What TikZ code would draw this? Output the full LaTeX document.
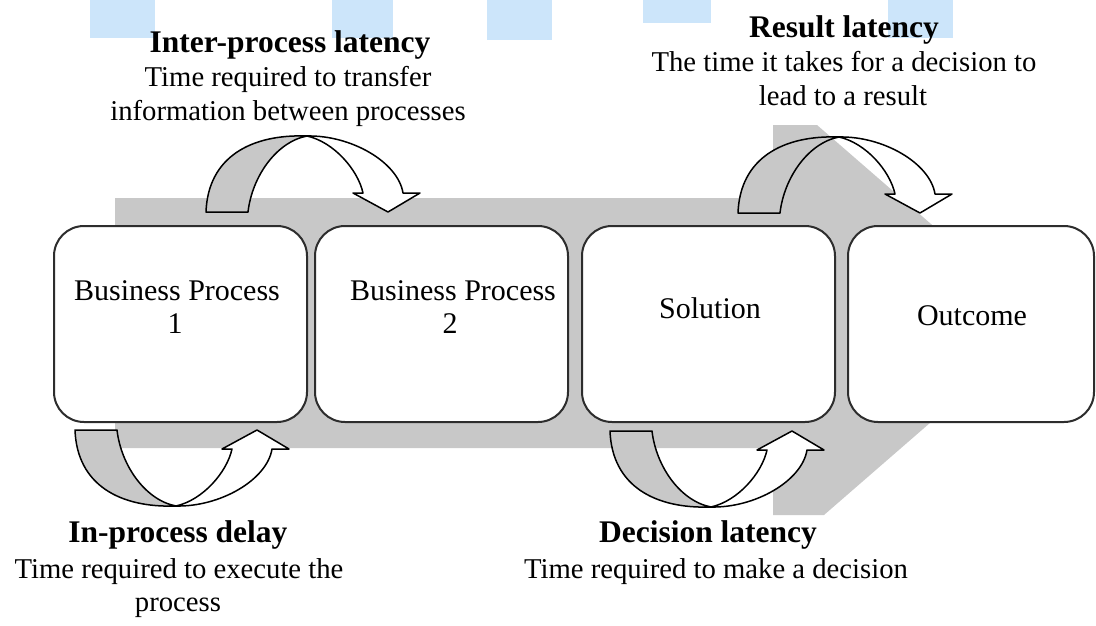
\documentclass[tikz,border=0pt]{standalone}
\usepackage{fontspec}
\setmainfont{Liberation Serif}
\definecolor{band}{RGB}{200,200,200}
\definecolor{cyanbar}{RGB}{204,229,250}
\definecolor{boxline}{RGB}{45,45,45}
\newcommand\ribbonarrow[4]{%
  \begin{scope}[shift={(#1,#2)}, yscale=#3]
    \filldraw[arr, fill=band] (0,0) coordinate (#4-foot)
      .. controls (2,-55) and (45,-78) .. (101,-76) coordinate (#4-top)
      .. controls (70,-70) and (46,-35) .. (42,0) -- cycle;
    \filldraw[arr, fill=white] (101,-76)
      .. controls (145,-77) and (192,-50) .. (197,-19)
      -- (214,-19) -- (182,0) coordinate (#4-tip) -- (147,-19) -- (157,-19)
      .. controls (152,-42) and (128,-70) .. (101,-76) -- cycle;
  \end{scope}}
\begin{document}
\begin{tikzpicture}[x=1pt,y=-1pt,
  box/.style={draw=boxline, line width=2pt, fill=white, rounded corners=30pt,
    minimum width=253pt, minimum height=196pt, inner sep=0},
  arr/.style={draw=black, line width=1.5pt, line join=round},
  boldt/.style={font=\fontsize{31.5}{36}\selectfont\bfseries, anchor=base, inner sep=0},
  regt/.style={font=\fontsize{28.7}{33}\selectfont, anchor=base, inner sep=0},
  boxt/.style={font=\fontsize{30}{34}\selectfont, anchor=base, inner sep=0}]
\useasboundingbox (0,0) rectangle (1096,626);
\fill[white] (0,0) rectangle (1096,626);
% light blue bars at the top
\fill[cyanbar] (90,0) rectangle (155,38);
\fill[cyanbar] (332,0) rectangle (393,38);
\fill[cyanbar] (487,0) rectangle (552,40);
\fill[cyanbar] (643,0) rectangle (711,23);
\fill[cyanbar] (888,0) rectangle (953,38);
% big gray process arrow
\fill[band] (115,198) -- (773,198) -- (773,125) -- (817,125) -- (1045,323)
  -- (824,515) -- (773,515) -- (773,448) -- (115,448) -- cycle;
% boxes
\node[box] (b1) at (180.5,324) {};
\node[box] (b2) at (441.5,324) {};
\node[box] (b3) at (708.5,324) {};
\node[box, minimum width=246pt] (b4) at (971,324) {};
\node[boxt] (t1a) at (177,300) {Business Process};
\node[boxt] (t1b) at (175,333) {1};
\node[boxt] (t2a) at (453,300) {Business Process};
\node[boxt] (t2b) at (450,333) {2};
\node[boxt] (t3) at (710,318) {Solution};
\node[boxt] (t4) at (972,325) {Outcome};
% curved arrows
\ribbonarrow{206}{212}{1}{ia}
\ribbonarrow{738}{213}{1}{ra}
\ribbonarrow{75}{430}{-1}{pa}
\ribbonarrow{610}{431}{-1}{da}
% labels
\node[boldt] (l1a) at (290,53) {Inter-process latency};
\node[regt] (l1b) at (288,87) {Time required to transfer};
\node[regt] (l1c) at (288,121) {information between processes};
\node[boldt] (l2a) at (844,38) {Result latency};
\node[regt] (l2b) at (844,72) {The time it takes for a decision to};
\node[regt] (l2c) at (843,106) {lead to a result};
\node[boldt] (l3a) at (178,542) {In-process delay};
\node[regt] (l3b) at (179,578) {Time required to execute the};
\node[regt] (l3c) at (178,611) {process};
\node[boldt] (l4a) at (708,542) {Decision latency};
\node[regt] (l4b) at (716,578) {Time required to make a decision};
\end{tikzpicture}
\end{document}
